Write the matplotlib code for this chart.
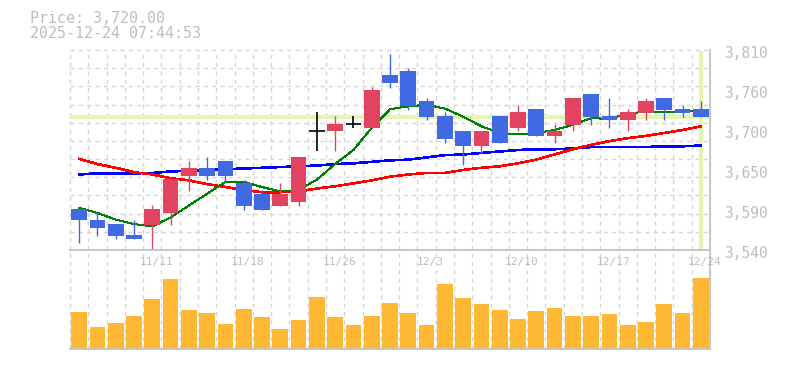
import matplotlib
matplotlib.use('Agg')
import numpy as np
import matplotlib.pyplot as plt
import matplotlib.transforms as mtransforms

# === データ ===
dates = ['11/5', '11/6', '11/7', '11/10', '11/11', '11/12', '11/13', '11/14', '11/17', '11/18',
         '11/19', '11/20', '11/21', '11/25', '11/26', '11/27', '11/28', '12/1', '12/2', '12/3',
         '12/4', '12/5', '12/8', '12/9', '12/10', '12/11', '12/12', '12/15', '12/16', '12/17',
         '12/18', '12/19', '12/22', '12/23', '12/24']
opens = [3595, 3580, 3575, 3560, 3574, 3590, 3640, 3651, 3660, 3630,
         3616, 3600, 3605, 3700, 3700, 3710, 3705, 3776, 3781, 3741,
         3721, 3700, 3680, 3721, 3705, 3730, 3694, 3709, 3750, 3721,
         3715, 3725, 3745, 3730, 3730]
highs = [3596, 3592, 3575, 3580, 3601, 3637, 3660, 3666, 3660, 3635,
         3621, 3630, 3666, 3726, 3721, 3721, 3760, 3805, 3786, 3745,
         3726, 3700, 3700, 3721, 3736, 3730, 3710, 3745, 3750, 3745,
         3730, 3745, 3745, 3736, 3741]
lows = [3550, 3559, 3555, 3555, 3541, 3574, 3620, 3635, 3631, 3594,
        3594, 3600, 3600, 3674, 3674, 3705, 3705, 3759, 3729, 3715,
        3685, 3655, 3670, 3685, 3700, 3694, 3685, 3700, 3709, 3705,
        3700, 3715, 3715, 3720, 3720]
closes = [3580, 3570, 3559, 3555, 3595, 3636, 3651, 3640, 3640, 3600,
          3594, 3616, 3666, 3700, 3710, 3710, 3756, 3765, 3735, 3720,
          3690, 3680, 3700, 3685, 3726, 3694, 3700, 3745, 3720, 3715,
          3726, 3741, 3729, 3725, 3720]
volumes = [37, 22, 26, 33, 50, 70, 39, 36, 25, 40,
           32, 20, 29, 52, 32, 24, 33, 46, 36, 24,
           65, 51, 45, 39, 30, 38, 41, 33, 33, 35,
           24, 27, 45, 36, 71]
ma5 = [3597, 3590, 3581, 3575, 3572, 3584, 3600, 3616, 3632, 3632,
       3625, 3619, 3621, 3635, 3656, 3675, 3705, 3730, 3734, 3736,
       3731, 3720, 3707, 3698, 3696, 3698, 3702, 3709, 3718, 3717,
       3724, 3727, 3726, 3727, 3728]
ma25 = [3663, 3656, 3651, 3645, 3642, 3637, 3634, 3629, 3625, 3621,
        3618, 3618, 3619, 3623, 3626, 3630, 3634, 3639, 3642, 3644,
        3644, 3648, 3651, 3653, 3657, 3662, 3669, 3676, 3682, 3687,
        3691, 3694, 3698, 3702, 3707]
ma75 = [3642, 3643.5, 3643.5, 3643.5, 3644, 3646, 3647, 3648, 3649, 3650,
        3651, 3652, 3653, 3654, 3656, 3657, 3659, 3661, 3662, 3665,
        3668, 3669, 3671, 3673, 3675, 3676, 3676, 3677, 3679, 3679,
        3679, 3679, 3680, 3680, 3681]
ytick_vals = [3540, 3594, 3648, 3702, 3756, 3810]
ytick_labels = ['3,540', '3,590', '3,650', '3,700', '3,760', '3,810']
label_every = 5
current_price = 3720
header = ['Price: 3,720.00', '2025-12-24 07:44:53']

# === スタイル ===
up_color = '#e24360'
down_color = '#4169e1'
vol_color = '#ffb833'
grid_color = '#d6d6d6'
frame_color = '#c4c4c4'
text_color = '#bdbdbd'
cross_color = '#e4f5b3'
plt.rcParams['font.family'] = ['DejaVu Sans Mono']

n = len(dates)
x = np.arange(1, n + 1)
o = np.array(opens, dtype=float)
c = np.array(closes, dtype=float)

fig = plt.figure(figsize=(7.85, 3.7), dpi=100)
ax = fig.add_axes([70 / 785., 120 / 370., 640 / 785., 200 / 370.])
axv = fig.add_axes([70 / 785., 21 / 370., 640 / 785., 99 / 370.])

# --- grid ---
for a in (ax, axv):
    for gx in np.arange(0.5, n + 1, 1.0):
        a.axvline(gx, color=grid_color, lw=1, ls=(0, (3, 3)), zorder=0, clip_on=False)
    a.set_xlim(0.5, n + 0.5)
for gy in np.linspace(3540, 3810, 12):
    ax.axhline(gy, color=grid_color, lw=1, ls=(0, (3, 3)), zorder=0, clip_on=False)

# --- crosshair ---
ax.axhline(current_price, color=cross_color, lw=3, zorder=1)
ax.plot([n, n], [3541, 3809], color=cross_color, lw=3, zorder=1, solid_capstyle='butt')

# --- moving averages ---
ax.plot(x, ma75, color='#0000ff', lw=1.15, zorder=2, antialiased=False)
ax.plot(x, ma25, color='#ff0000', lw=1.15, zorder=2, antialiased=False)
ax.plot(x, ma5, color='#008000', lw=0.75, zorder=2, antialiased=False)

# --- candles ---
w = 0.86
for i in range(n):
    if c[i] == o[i]:
        ax.vlines(x[i], lows[i], highs[i], color='black', lw=1.2, zorder=3)
        ax.hlines(c[i], x[i] - w / 2, x[i] + w / 2, color='black', lw=1.2, zorder=3)
        continue
    col = up_color if c[i] > o[i] else down_color
    ax.vlines(x[i], lows[i], highs[i], color=col, lw=1.0, zorder=3)
    ax.bar(x[i], abs(c[i] - o[i]), bottom=min(c[i], o[i]), width=w, color=col,
           linewidth=0, zorder=4)

ax.set_ylim(3540, 3810)
ax.yaxis.tick_right()
ax.set_yticks(ytick_vals)
ax.set_yticklabels(ytick_labels)
ax.tick_params(axis='y', length=0, pad=10, labelsize=10.5, labelcolor=text_color)
for lab in ax.get_yticklabels():
    lab.set_transform(lab.get_transform() + mtransforms.ScaledTranslation(0, -0.025, fig.dpi_scale_trans))
ax.set_xticks([])
for s in ('top', 'left'):
    ax.spines[s].set_visible(False)
for s in ('right', 'bottom'):
    ax.spines[s].set_color(frame_color)
    ax.spines[s].set_linewidth(1.3)

# --- volume ---
axv.bar(x, volumes, width=w, color=vol_color, linewidth=0, zorder=2)
axv.set_ylim(0, 99)
axv.set_xticks([])
axv.set_yticks([])
axv.spines['left'].set_visible(False)
for s in ('top', 'bottom', 'right'):
    axv.spines[s].set_color(frame_color)
    axv.spines[s].set_linewidth(1.3)

# 日付ラベル
trans = mtransforms.blended_transform_factory(axv.transData, axv.transAxes)
trans = trans + mtransforms.ScaledTranslation(0.04, 0, fig.dpi_scale_trans)
for i in range(label_every - 1, n, label_every):
    axv.text(x[i], 0.88, dates[i], transform=trans, ha='center', va='center',
             fontsize=8, color=text_color, zorder=5)

# ヘッダー
fig.text(30 / 785., 1 - 22.7 / 370., header[0], fontsize=10.8, color=text_color, va='baseline')
fig.text(30 / 785., 1 - 38.3 / 370., header[1], fontsize=10.8, color=text_color, va='baseline')

plt.savefig('out.png', dpi=100)
plt.close()
